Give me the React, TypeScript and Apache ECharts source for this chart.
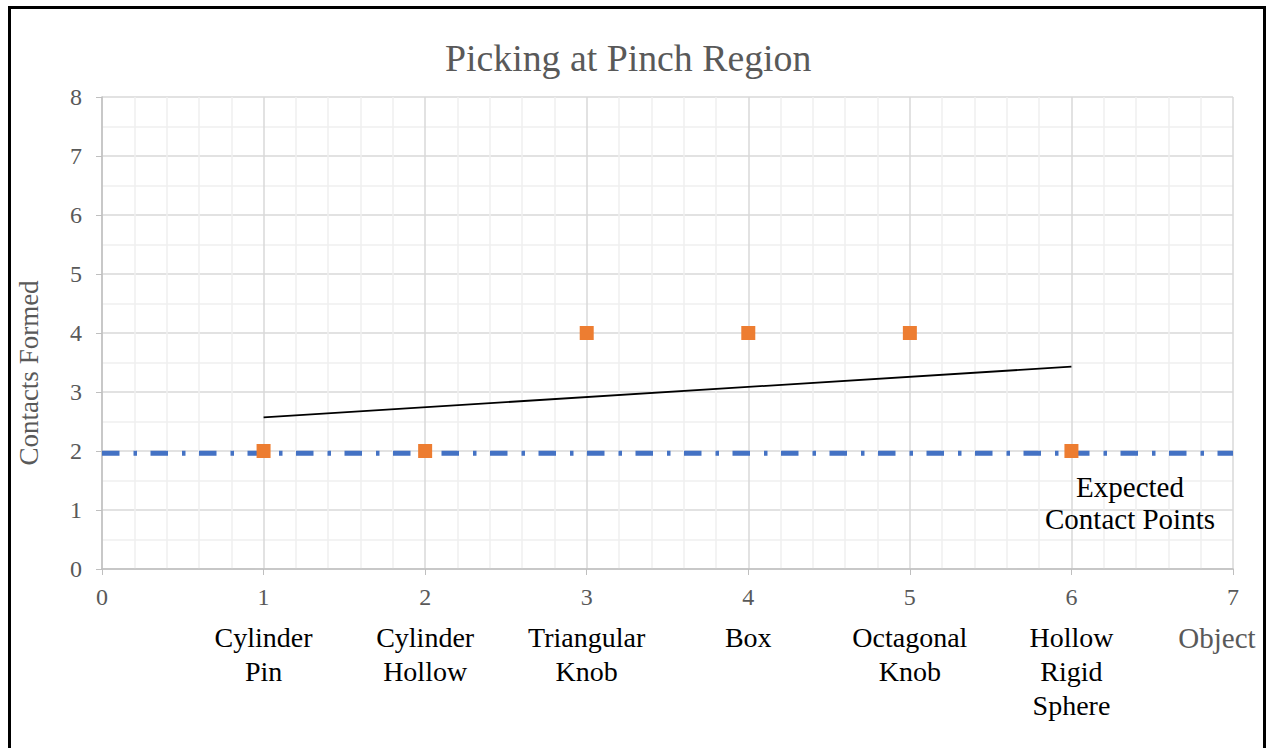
import React, { useEffect, useRef } from "react";
import * as echarts from "echarts";

const titleText = "Picking at Pinch Region";
const xAxisName = "Object";
const yAxisName = "Contacts Formed";
const categoryNames = [
  "",
  "Cylinder\nPin",
  "Cylinder\nHollow",
  "Triangular\nKnob",
  "Box",
  "Octagonal\nKnob",
  "Hollow\nRigid\nSphere",
  "",
];
const objectX = [1, 2, 3, 4, 5, 6];
const contactsFormed = [2, 2, 4, 4, 4, 2];
const trendX = [1, 6];
const trendY = [2.57, 3.43];
const expectedX = [0, 7];
const expectedY = [1.96, 1.96];
const expectedLabel = "Expected\nContact Points";

const FONT = "Liberation Serif, Times New Roman, serif";

export default function App() {
  const ref = useRef<HTMLDivElement>(null);
  useEffect(() => {
    if (!ref.current) return;
    const chart = echarts.init(ref.current, undefined, { renderer: "svg" });
    const option: any = {
      animation: false,
      backgroundColor: "#ffffff",
      textStyle: { fontFamily: FONT },
      title: {
        text: titleText,
        left: 440,
        top: 34,
        padding: 5,
        textAlign: "left",
        textStyle: {
          fontFamily: FONT,
          fontSize: 37.8,
          fontWeight: "normal",
          color: "#595959",
          lineHeight: 38,
        },
      },
      grid: {
        left: 102,
        right: 34,
        top: 97,
        bottom: 179,
        containLabel: false,
        outerBoundsMode: "none",
      },
      xAxis: {
        type: "value",
        min: 0,
        max: 7,
        interval: 1,
        axisLine: { show: true, lineStyle: { color: "#bfbfbf", width: 1.5 } },
        axisTick: { show: true, length: 6, lineStyle: { color: "#bfbfbf" } },
        minorTick: { show: false, splitNumber: 5 },
        splitLine: { show: true, lineStyle: { color: "#d9d9d9", width: 1.5 } },
        minorSplitLine: { show: true, lineStyle: { color: "#efefef", width: 1.5 } },
        axisLabel: {
          margin: 5,
          showMinLabel: true,
          showMaxLabel: true,
          hideOverlap: false,
          formatter: (v: number) => {
            const i = Math.round(v);
            const name = categoryNames[i];
            let s = `{n|${i}}`;
            if (name) {
              s += "\n" + name.split("\n").map((l) => `{c|${l}}`).join("\n");
            }
            return s;
          },
          rich: {
            n: {
              fontFamily: FONT,
              fontSize: 24,
              color: "#595959",
              lineHeight: 46,
              align: "center",
            },
            c: {
              fontFamily: FONT,
              fontSize: 28,
              color: "#000000",
              lineHeight: 34,
              align: "center",
            },
          },
        },
      },
      yAxis: {
        type: "value",
        min: 0,
        max: 8,
        interval: 1,
        name: yAxisName,
        nameLocation: "middle",
        nameGap: 60,
        nameTextStyle: {
          fontFamily: FONT,
          fontSize: 27,
          color: "#595959",
          padding: [0, 80, 0, 0],
        },
        axisLine: { show: true, lineStyle: { color: "#bfbfbf", width: 1.5 } },
        axisTick: { show: true, length: 6, lineStyle: { color: "#bfbfbf" } },
        minorTick: { show: false, splitNumber: 2 },
        splitLine: { show: true, lineStyle: { color: "#d9d9d9", width: 1.5 } },
        minorSplitLine: { show: true, lineStyle: { color: "#efefef", width: 1.5 } },
        axisLabel: {
          margin: 20,
          formatter: (v: number) => `{n|${v}}`,
          rich: {
            n: { fontFamily: FONT, fontSize: 24, color: "#595959" },
          },
        },
      },
      series: [
        {
          name: "Expected Contact Points",
          type: "line",
          data: expectedX.map((x, i) => [x, expectedY[i]]),
          showSymbol: false,
          symbol: "none",
          lineStyle: {
            color: "#4472C4",
            width: 5,
            type: [17.5, 14, 3.5, 13.5],
            cap: "butt",
          },
          z: 2,
        },
        {
          name: "Trend",
          type: "line",
          data: trendX.map((x, i) => [x, trendY[i]]),
          showSymbol: false,
          symbol: "none",
          lineStyle: { color: "#000000", width: 1.8 },
          z: 3,
        },
        {
          name: "Contacts Formed",
          type: "scatter",
          data: objectX.map((x, i) => [x, contactsFormed[i]]),
          symbol: "rect",
          symbolSize: 14,
          itemStyle: { color: "#ED7D31", opacity: 1 },
          z: 4,
        },
      ],
      graphic: [
        {
          type: "rect",
          shape: { x: 9.5, y: 7.5, width: 1255, height: 800 },
          style: { fill: "none", stroke: "#000000", lineWidth: 3 },
          silent: true,
          z: 0,
        },
        {
          type: "text",
          x: 1217,
          y: 638,
          style: {
            text: xAxisName,
            fontFamily: FONT,
            fontSize: 29,
            fill: "#595959",
            align: "center",
            verticalAlign: "middle",
          },
          z: 10,
        },
        {
          type: "text",
          x: 1130,
          y: 503,
          style: {
            text: expectedLabel,
            fontFamily: FONT,
            fontSize: 29,
            lineHeight: 32,
            fill: "#000000",
            align: "center",
            verticalAlign: "middle",
          },
          z: 10,
        },
      ],
    };
    chart.setOption(option);
    return () => chart.dispose();
  }, []);
  return (
    <div
      ref={ref}
      style={{ position: "absolute", left: 0, top: 0, width: 1267, height: 748 }}
    />
  );
}
